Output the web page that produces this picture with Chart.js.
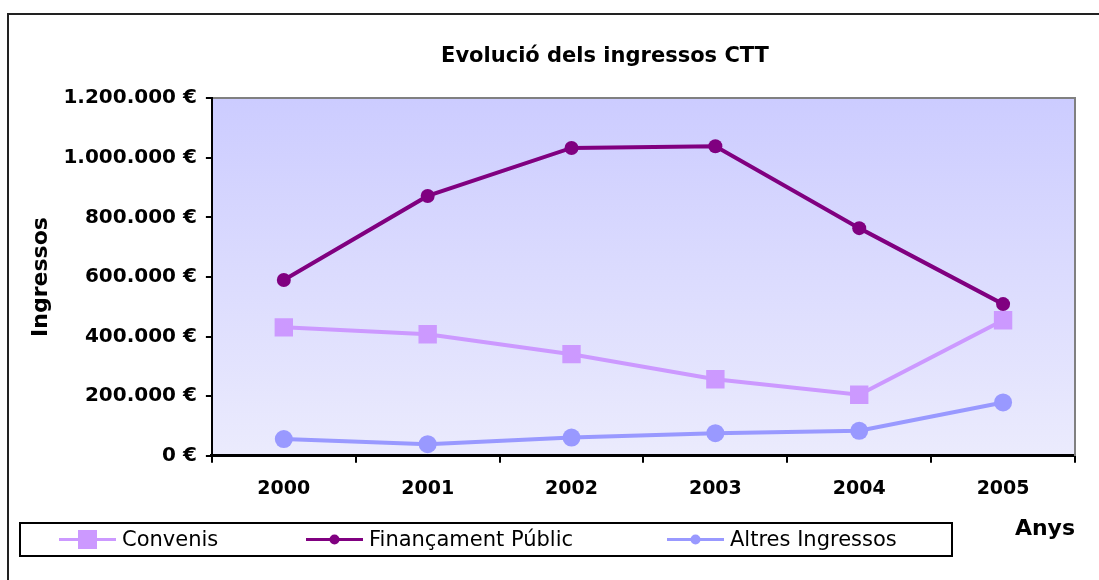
<!DOCTYPE html>
<html>
<head>
  <title>Evolució dels ingressos CTT</title>
  <script src="https://cdn.jsdelivr.net/npm/chart.js"></script>
  <style>
    body { margin: 0; overflow: hidden; background: #fff; }
    #frame { position: absolute; left: 7px; top: 13px; width: 1192px; height: 600px; border: 2px solid #222; }
    #chart { display: block; }
  </style>
</head>
<body>
  <div id="frame"><canvas id="chart" width="1192" height="565"></canvas></div>

  <script>
    const years = ['2000', '2001', '2002', '2003', '2004', '2005'];
    const convenis = [431000, 408000, 341000, 257000, 205000, 455000];
    const financament = [590000, 872000, 1033000, 1039000, 764000, 509000];
    const altres = [56000, 39000, 61000, 76000, 84000, 179000];
    const yTickLabels = ['0 €', '200.000 €', '400.000 €', '600.000 €', '800.000 €', '1.000.000 €', '1.200.000 €'];

    Chart.defaults.font.family = '"DejaVu Sans", sans-serif';
    Chart.defaults.color = '#000';

    // gradient behind the plot, like the old spreadsheet chart
    const plotBackground = {
      id: 'plotBackground',
      beforeDraw(chart) {
        const { ctx, chartArea: a } = chart;
        const g = ctx.createLinearGradient(0, a.top, 0, a.bottom);
        g.addColorStop(0, '#ccccff');
        g.addColorStop(1, '#ebebfd');
        ctx.save();
        ctx.fillStyle = g;
        ctx.fillRect(a.left, a.top, a.width, a.height);
        ctx.restore();
      }
    };

    // boxed legend with line + marker samples
    const boxLegend = {
      id: 'boxLegend',
      afterDraw(chart, args, opts) {
        const ctx = chart.ctx;
        const cy = opts.top + opts.height / 2;
        ctx.save();
        ctx.strokeStyle = '#000';
        ctx.lineWidth = 2;
        ctx.strokeRect(opts.left, opts.top, opts.width, opts.height);
        ctx.font = opts.font;
        ctx.textBaseline = 'middle';
        chart.data.datasets.forEach((ds, i) => {
          const x0 = opts.left + opts.itemX[i];
          const mx = x0 + opts.sample / 2;
          ctx.strokeStyle = ds.borderColor;
          ctx.lineWidth = 3;
          ctx.beginPath();
          ctx.moveTo(x0, cy);
          ctx.lineTo(x0 + opts.sample, cy);
          ctx.stroke();
          ctx.fillStyle = ds.pointBackgroundColor;
          const r = opts.marker[i];
          ctx.beginPath();
          if (ds.pointStyle === 'rect') {
            ctx.rect(mx - r, cy - r, 2 * r, 2 * r);
          } else {
            ctx.arc(mx, cy, r, 0, Math.PI * 2);
          }
          ctx.fill();
          ctx.fillStyle = '#000';
          ctx.fillText(ds.label, x0 + opts.sample + opts.gap, cy + 1);
        });
        ctx.restore();
      }
    };

    function series(label, data, color, style, radius) {
      return {
        label,
        data,
        borderColor: color,
        backgroundColor: color,
        pointBackgroundColor: color,
        pointBorderColor: color,
        pointBorderWidth: 0,
        pointStyle: style,
        pointRadius: radius,
        borderWidth: 4,
        tension: 0
      };
    }

    new Chart(document.getElementById('chart'), {
      type: 'line',
      data: {
        labels: years,
        datasets: [
          series('Convenis', convenis, '#cc99ff', 'rect', 13),
          series('Finançament Públic', financament, '#800080', 'circle', 7),
          series('Altres Ingressos', altres, '#9999ff', 'circle', 9)
        ]
      },
      options: {
        responsive: false,
        animation: false,
        layout: { padding: { left: 0, right: 0, top: 0, bottom: 38 } },
        plugins: {
          legend: { display: false },
          tooltip: { enabled: false },
          title: {
            display: true,
            text: 'Evolució dels ingressos CTT',
            font: { size: 21, weight: 'bold' },
            padding: { top: 29, bottom: 21 }
          },
          boxLegend: {
            left: 11, top: 508, width: 932, height: 33,
            itemX: [39, 286, 647], sample: 57, gap: 6,
            marker: [9.5, 5, 5],
            font: '21px "DejaVu Sans"'
          }
        },
        scales: {
          x: {
            type: 'category',
            offset: true,
            grid: { offset: true, drawOnChartArea: false, tickLength: 7, color: '#000', lineWidth: 2 },
            border: { color: '#000', width: 3 },
            ticks: { font: { size: 19, weight: 'bold' }, padding: 15 },
            title: {
              display: true, text: 'Anys', align: 'end',
              font: { size: 22, weight: 'bold' },
              padding: { top: 0, bottom: 0 }
            }
          },
          x2: {
            type: 'category',
            position: 'top',
            grid: { display: false },
            ticks: { display: false },
            border: { color: '#808080', width: 2 }
          },
          y: {
            min: 0,
            max: 1200000,
            ticks: {
              stepSize: 200000,
              padding: 9,
              font: { size: 20, weight: 'bold' },
              callback: (v, i) => yTickLabels[i]
            },
            grid: { drawOnChartArea: false, tickLength: 6, color: '#000', lineWidth: 2 },
            border: { color: '#000', width: 2 },
            title: {
              display: true, text: 'Ingressos',
              font: { size: 22, weight: 'bold' },
              padding: { top: 19, bottom: 0 }
            }
          },
          y2: {
            position: 'right',
            grid: { display: false },
            ticks: { display: false },
            border: { color: '#808080', width: 2 },
            afterFit(scale) { scale.width = 126; }
          }
        }
      },
      plugins: [plotBackground, boxLegend]
    });
  </script>
</body>
</html>
